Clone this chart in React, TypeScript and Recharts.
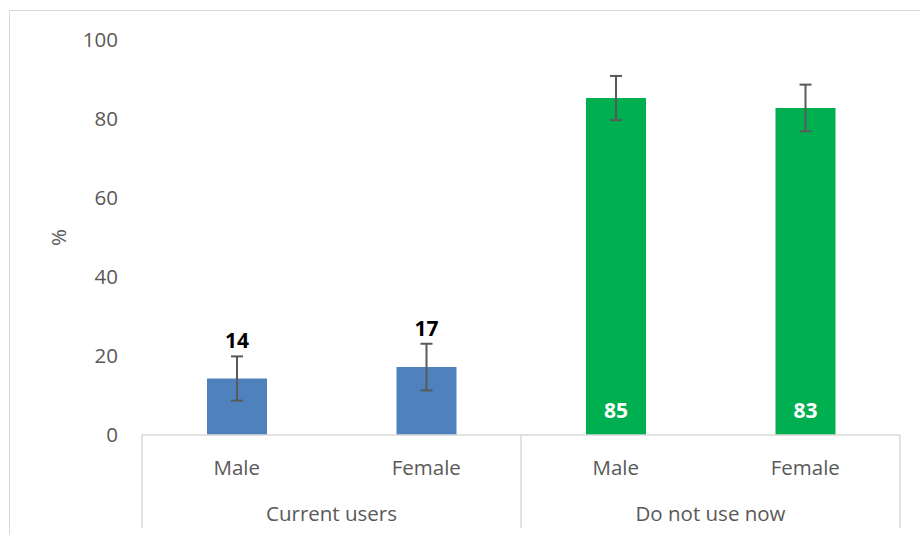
import React from 'react';
import { BarChart, Bar, XAxis, YAxis, ErrorBar, LabelList, Cell } from 'recharts';

const categories = ['Male', 'Female', 'Male', 'Female'];
const groups = ['Current users', 'Current users', 'Do not use now', 'Do not use now'];
const values = [14.3, 17.2, 85.3, 82.8];
const errors = [5.6, 5.9, 5.6, 5.9];
const labels = ['14', '17', '85', '83'];
const colors = ['#4F81BD', '#4F81BD', '#00B050', '#00B050'];
const yTicks = [0, 20, 40, 60, 80, 100];

const data = categories.map((c, i) => ({
  key: `${groups[i]}-${c}`,
  cat: c,
  group: groups[i],
  value: values[i],
  err: errors[i],
  label: labels[i],
}));

const FONT = '"Open Sans", sans-serif';
const GRAY = '#595959';
const LINE = '#d9d9d9';

const CatTick = (props: any) => {
  const { x, y, index, width, visibleTicksCount } = props;
  const half = width / visibleTicksCount / 2;
  const d = data[index];
  const isGroupStart = index === 0 || groups[index] !== groups[index - 1];
  const isLast = index === data.length - 1;
  return (
    <g>
      <text x={x} y={y + 32} textAnchor="middle" dominantBaseline="central" fill={GRAY} fontSize={20.5} fontFamily={FONT}>
        {d.cat}
      </text>
      {isGroupStart && (
        <>
          <line x1={x - half} x2={x - half} y1={y} y2={y + 93} stroke={LINE} strokeWidth={1.5} />
          <text x={x + half} y={y + 78} textAnchor="middle" dominantBaseline="central" fill={GRAY} fontSize={20.5} fontFamily={FONT}>
            {d.group}
          </text>
        </>
      )}
      {isLast && <line x1={x + half} x2={x + half} y1={y} y2={y + 93} stroke={LINE} strokeWidth={1.5} />}
    </g>
  );
};

const ValueLabel = (props: any) => {
  const { x, y, width, height, index } = props;
  const d = data[index];
  const inside = d.value > 50;
  const cx = x + width / 2;
  const cy = inside ? y + height - 25 : y - 39;
  return (
    <text x={cx} y={cy} textAnchor="middle" dominantBaseline="central" fill={inside ? '#ffffff' : '#000000'} fontSize={21} fontWeight="bold" fontFamily={FONT}>
      {d.label}
    </text>
  );
};

export default function App() {
  return (
    <div style={{ position: 'absolute', left: 0, top: 0, width: 920, height: 535, overflow: 'hidden', background: '#fff' }}>
      <div style={{ position: 'absolute', left: 9, top: 10, width: 1000, height: 1000, borderLeft: `1px solid ${LINE}`, borderTop: `1px solid ${LINE}` }} />
      <div style={{ position: 'absolute', left: 0, top: 0 }}>
        <BarChart width={920} height={535} data={data} margin={{ top: 40, right: 20, bottom: 0, left: 0 }} barSize={60}>
          <XAxis
            dataKey="key"
            height={100}
            interval={0}
            tickLine={false}
            tickSize={0}
            tickMargin={0}
            axisLine={{ stroke: LINE, strokeWidth: 1.5 }}
            tick={<CatTick />}
          />
          <YAxis
            width={142}
            domain={[0, 100]}
            ticks={yTicks}
            axisLine={false}
            tickLine={false}
            tickSize={0}
            tickMargin={24}
            tick={{ fill: GRAY, fontSize: 20.5, fontFamily: FONT }}
            label={{ value: '%', angle: -90, position: 'center', dx: -12, fill: GRAY, fontSize: 20.5, fontFamily: FONT }}
          />
          <Bar dataKey="value" isAnimationActive={false}>
            {data.map((d, i) => (
              <Cell key={d.key} fill={colors[i]} />
            ))}
            <ErrorBar dataKey="err" width={6} stroke={GRAY} strokeWidth={2} />
            <LabelList dataKey="label" content={<ValueLabel />} />
          </Bar>
        </BarChart>
      </div>
    </div>
  );
}
